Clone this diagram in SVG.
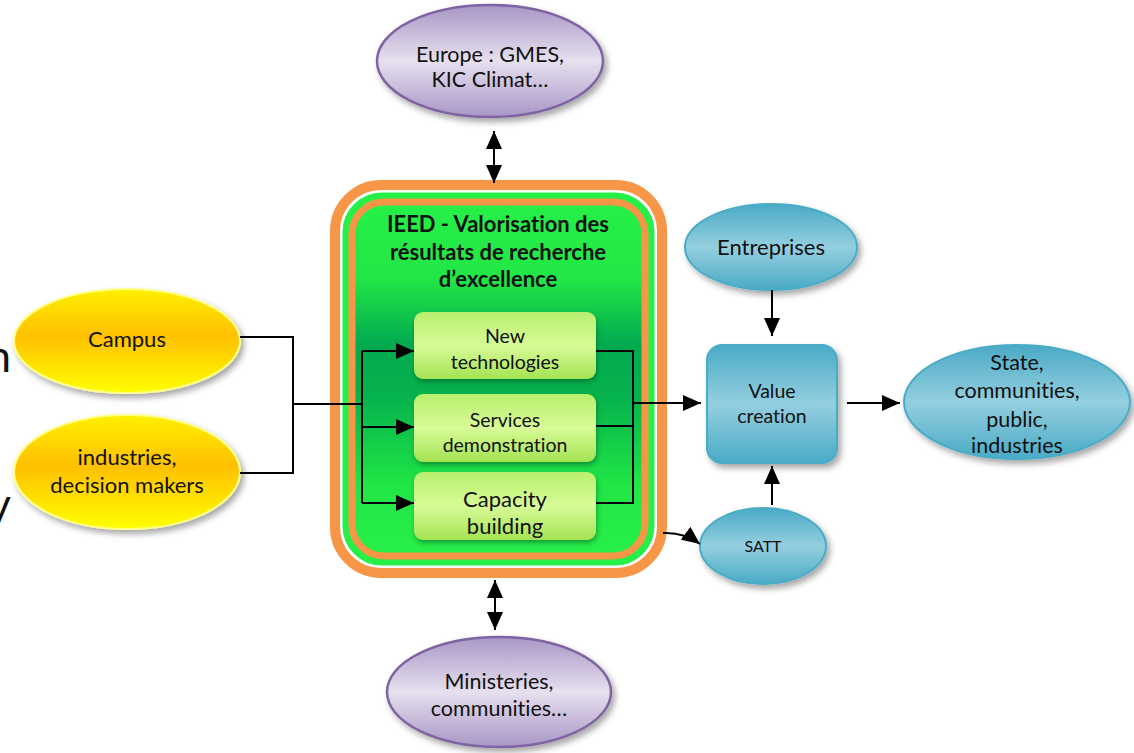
<svg xmlns="http://www.w3.org/2000/svg" width="1134" height="753" viewBox="0 0 1134 753">
<defs>
<style>
text{font-family:Lato,"Open Sans","Liberation Sans",sans-serif;fill:#111;text-anchor:middle;font-variant-ligatures:none;font-feature-settings:"liga" 0}
.t22{font-size:22px}
.t21{font-size:21.5px}
.t20{font-size:19.5px}
.bold{font-weight:bold;font-size:22px}
.line{fill:none;stroke:#000;stroke-width:2}
.arr{fill:none;stroke:#000;stroke-width:2;marker-end:url(#ah)}
.dbl{fill:none;stroke:#000;stroke-width:2;marker-end:url(#ah);marker-start:url(#ahs)}
.yel{fill:url(#gY);stroke:#ffff88;stroke-width:2;filter:url(#sh)}
.pur{fill:url(#gP);stroke:#8064a2;stroke-width:2.5;filter:url(#sh)}
.blu{fill:url(#gB);stroke:#4bacc6;stroke-width:2;filter:url(#sh)}
.lime{fill:url(#gL);filter:url(#sh2)}
</style>
<linearGradient id="gY" x1="0" y1="0" x2="0" y2="1">
<stop offset="0" stop-color="#fff000"/><stop offset="0.45" stop-color="#ffc000"/><stop offset="1" stop-color="#ffff00"/>
</linearGradient>
<linearGradient id="gP" x1="0" y1="0" x2="0" y2="1">
<stop offset="0" stop-color="#a996c6"/><stop offset="0.5" stop-color="#e6e0ee"/><stop offset="1" stop-color="#a996c6"/>
</linearGradient>
<linearGradient id="gB" x1="0" y1="0" x2="0" y2="1">
<stop offset="0" stop-color="#4aaac6"/><stop offset="0.5" stop-color="#94cfdf"/><stop offset="1" stop-color="#4aaac6"/>
</linearGradient>
<linearGradient id="gL" x1="0" y1="0" x2="0" y2="1">
<stop offset="0" stop-color="#b8ef6c"/><stop offset="0.5" stop-color="#d8fb98"/><stop offset="1" stop-color="#a4e352"/>
</linearGradient>
<linearGradient id="gG" x1="0" y1="0" x2="0" y2="1">
<stop offset="0" stop-color="#26f048"/><stop offset="0.22" stop-color="#22e646"/><stop offset="0.4" stop-color="#02aa50"/><stop offset="0.55" stop-color="#06b24c"/><stop offset="0.8" stop-color="#20e646"/><stop offset="1" stop-color="#28f04a"/>
</linearGradient>
<filter id="sh" x="-20%" y="-20%" width="140%" height="150%">
<feDropShadow dx="3" dy="4" stdDeviation="3" flood-color="#000" flood-opacity="0.35"/>
</filter>
<filter id="sh2" x="-20%" y="-20%" width="140%" height="150%">
<feDropShadow dx="1" dy="3" stdDeviation="2.5" flood-color="#004d20" flood-opacity="0.5"/>
</filter>
<marker id="ah" markerUnits="userSpaceOnUse" markerWidth="18" markerHeight="16" refX="18" refY="8" orient="auto">
<path d="M0,0 L18,8 L0,16 z" fill="#000"/>
</marker>
<marker id="ahs" markerUnits="userSpaceOnUse" markerWidth="18" markerHeight="16" refX="18" refY="8" orient="auto-start-reverse">
<path d="M0,0 L18,8 L0,16 z" fill="#000"/>
</marker>
</defs>
<rect width="1134" height="753" fill="#fff"/>

<g id="bg-fragments">
<text x="11" y="372" style="font-size:44px;text-anchor:end">n</text>
<text x="11" y="520" style="font-size:44px;text-anchor:end">y</text>
</g>

<g id="ieed">
<rect x="335" y="185" width="327" height="388" rx="46" fill="#fff" stroke="#f79646" stroke-width="10"/>
<rect x="344" y="194" width="309" height="370" rx="38" fill="#26f048" stroke="#26f048" stroke-width="3"/>
<rect x="352" y="202" width="293" height="354" rx="32" fill="url(#gG)" stroke="#f79646" stroke-width="7"/>
<text class="bold" x="498" y="232">IEED - Valorisation des</text>
<text class="bold" x="498" y="260">résultats de recherche</text>
<text class="bold" x="498" y="287">d’excellence</text>
</g>

<g id="new-tech">
<rect class="lime" x="414" y="312" width="182" height="67" rx="9"/>
<text class="t20" x="505" y="343">New</text>
<text class="t20" x="505" y="369">technologies</text>
</g>
<g id="services">
<rect class="lime" x="414" y="394" width="182" height="68" rx="9"/>
<text class="t20" x="505" y="427">Services</text>
<text class="t20" x="505" y="452">demonstration</text>
</g>
<g id="capacity">
<rect class="lime" x="414" y="472" width="182" height="68" rx="9"/>
<text class="t22" x="505" y="507">Capacity</text>
<text class="t22" x="505" y="534">building</text>
</g>

<g id="campus">
<ellipse class="yel" cx="127" cy="341" rx="113" ry="52"/>
<text class="t22" x="127" y="347">Campus</text>
</g>
<g id="industries">
<ellipse class="yel" cx="127" cy="472" rx="113" ry="57"/>
<text class="t22" x="127" y="465">industries,</text>
<text class="t22" x="127" y="493">decision makers</text>
</g>

<g id="europe">
<ellipse class="pur" cx="490" cy="61" rx="113" ry="56"/>
<text class="t21" x="490" y="62">Europe : GMES,</text>
<text class="t21" x="490" y="87">KIC Climat…</text>
</g>
<g id="ministeries">
<ellipse class="pur" cx="499" cy="692" rx="112" ry="55"/>
<text class="t21" x="499" y="689">Ministeries,</text>
<text class="t21" x="499" y="716">communities…</text>
</g>

<g id="entreprises">
<ellipse class="blu" cx="771" cy="247" rx="86" ry="43"/>
<text class="t22" x="771" y="255">Entreprises</text>
</g>
<g id="value">
<rect class="blu" x="707" y="345" width="130" height="118" rx="15"/>
<text class="t20" x="772" y="398">Value</text>
<text class="t20" x="772" y="423">creation</text>
</g>
<g id="satt">
<ellipse class="blu" cx="763" cy="546" rx="63" ry="38"/>
<text x="763" y="552" style="font-size:16px">SATT</text>
</g>
<g id="state">
<ellipse class="blu" cx="1017" cy="402" rx="113" ry="57"/>
<text class="t21" x="1017" y="370">State,</text>
<text class="t21" x="1017" y="398">communities,</text>
<text class="t21" x="1017" y="427">public,</text>
<text class="t21" x="1017" y="453">industries</text>
</g>

<g id="connectors">
<path class="line" d="M240,337 H293 V473 H240"/>
<path class="line" d="M293,404 H362"/>
<path class="line" d="M362,351 V503"/>
<path class="arr" d="M362,351 H414"/>
<path class="arr" d="M362,427 H414"/>
<path class="arr" d="M362,503 H414"/>
<path class="line" d="M596,351 H633 V503 H596"/>
<path class="line" d="M596,426 H633"/>
<path class="arr" d="M633,403 H701"/>
<path class="arr" d="M772,290 V336"/>
<path class="arr" d="M772,505 V466"/>
<path class="arr" d="M847,403 H900"/>
<path class="arr" d="M663,533 Q684,532 700,544"/>
<path class="dbl" d="M494,131 V183"/>
<path class="dbl" d="M495,580 V630"/>
</g>
</svg>
